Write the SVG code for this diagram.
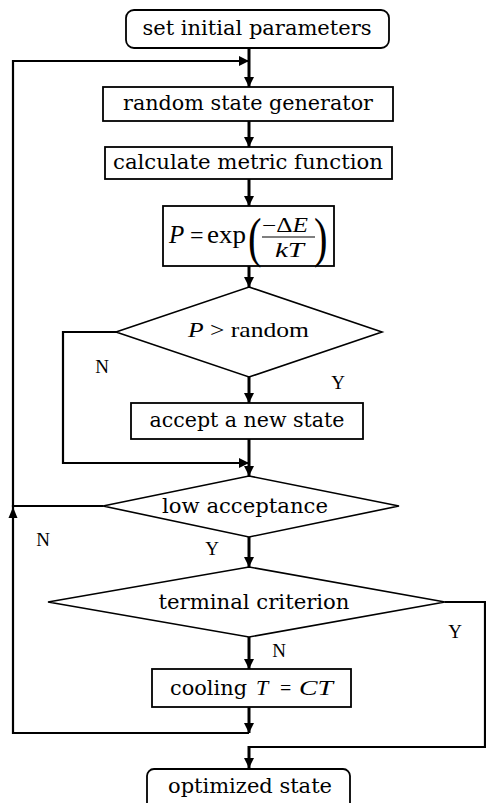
<svg xmlns="http://www.w3.org/2000/svg" width="486" height="803" viewBox="0 0 486 803">
<style>
.box{fill:#fff;stroke:#000;stroke-width:1.8}
.dia{fill:#fff;stroke:#000;stroke-width:1.6}
.t{font-family:"DejaVu Serif","Liberation Serif",serif;font-size:20px;fill:#000}
.m{font-family:"Liberation Serif","Times New Roman",serif;fill:#000}
.lbl{font-family:"Liberation Serif","Times New Roman",serif;font-size:19px;fill:#000;text-anchor:middle}
.c{fill:none;stroke:#000;stroke-width:3}
.c2{fill:none;stroke:#000;stroke-width:2.2}
</style>
<defs>
<marker id="ah" viewBox="0 0 10 10" refX="10" refY="5" markerWidth="11" markerHeight="10" markerUnits="userSpaceOnUse" orient="auto">
<path d="M0,0 L10,5 L0,10 z" fill="#000"/>
</marker>
</defs>
<rect width="486" height="803" fill="#fff"/>
<g id="connectors">
<path class="c" d="M249,48 V87" marker-end="url(#ah)"/>
<path class="c2" d="M103,506 H13 V61 H249" marker-end="url(#ah)"/>
<path d="M13,507 L8.5,518 L17.5,518 z" fill="#000"/>
<path class="c" d="M249,121 V147" marker-end="url(#ah)"/>
<path class="c" d="M249,179 V206" marker-end="url(#ah)"/>
<path class="c" d="M249,266 V287" marker-end="url(#ah)"/>
<path class="c" d="M249,377 V403" marker-end="url(#ah)"/>
<path class="c" d="M249,439 V476" marker-end="url(#ah)"/>
<path class="c2" d="M116,332 H63 V463 H249" marker-end="url(#ah)"/>
<path class="c" d="M249,537 V567" marker-end="url(#ah)"/>
<path class="c" d="M249,637 V669" marker-end="url(#ah)"/>
<path class="c" d="M249,707 V733" marker-end="url(#ah)"/>
<path class="c2" d="M249,733 H13 V505"/>
<path class="c2" d="M445,602 H485 V747 H249"/>
<path class="c" d="M249,746 V768" marker-end="url(#ah)"/>
</g>
<g id="n_start">
<rect class="box" x="126" y="10" width="263" height="38" rx="8"/>
<text class="t" x="257" y="35" text-anchor="middle" textLength="229" lengthAdjust="spacingAndGlyphs">set initial parameters</text>
</g>
<g id="n_random">
<rect class="box" x="103" y="87" width="290" height="34"/>
<text class="t" x="248" y="110" text-anchor="middle" textLength="250" lengthAdjust="spacingAndGlyphs">random state generator</text>
</g>
<g id="n_metric">
<rect class="box" x="105" y="147" width="287" height="32"/>
<text class="t" x="248" y="169" text-anchor="middle" textLength="270" lengthAdjust="spacingAndGlyphs">calculate metric function</text>
</g>
<g id="n_prob">
<rect class="box" x="163" y="206" width="171" height="60"/>
<text class="m" x="169" y="243" font-size="25" font-style="italic">P</text>
<text class="m" x="190" y="243" font-size="24">=</text>
<text class="m" x="207" y="243" font-size="25" textLength="39" lengthAdjust="spacingAndGlyphs">exp</text>
<text class="m" x="248" y="256" font-size="54" transform="translate(248,256) scale(0.75,1) translate(-248,-256)">(</text>
<text class="m" x="314" y="256" font-size="54" transform="translate(314,256) scale(0.75,1) translate(-314,-256)">)</text>
<text class="m" x="262" y="232" font-size="20" textLength="46" lengthAdjust="spacingAndGlyphs">−Δ<tspan font-style="italic">E</tspan></text>
<line x1="262" y1="237" x2="315" y2="237" stroke="#000" stroke-width="1.2"/>
<text class="m" x="275" y="257" font-size="20" font-style="italic" textLength="29" lengthAdjust="spacingAndGlyphs">kT</text>
</g>
<g id="n_prand">
<polygon class="dia" points="249,287 382,332 249,377 116,332"/>
<text class="m" x="188" y="337" font-size="22" textLength="121" lengthAdjust="spacingAndGlyphs"><tspan font-style="italic">P</tspan> &gt; random</text>
</g>
<g id="n_accept">
<rect class="box" x="131" y="403" width="232" height="36"/>
<text class="t" x="247" y="427" text-anchor="middle" textLength="195" lengthAdjust="spacingAndGlyphs">accept a new state</text>
</g>
<g id="n_low">
<polygon class="dia" points="249,476 399,506 249,537 103,506"/>
<text class="t" x="245" y="513" text-anchor="middle" textLength="166" lengthAdjust="spacingAndGlyphs">low acceptance</text>
</g>
<g id="n_term">
<polygon class="dia" points="249,567 445,602 249,637 48,602"/>
<text class="t" x="254" y="609" text-anchor="middle" textLength="191" lengthAdjust="spacingAndGlyphs">terminal criterion</text>
</g>
<g id="n_cool">
<rect class="box" x="152" y="669" width="199" height="38"/>
<text class="t" x="170" y="695" textLength="77" lengthAdjust="spacingAndGlyphs">cooling</text>
<text class="m" x="256" y="695" font-size="22" font-style="italic">T</text>
<text class="m" x="280" y="695" font-size="20">=</text>
<text class="m" x="299" y="695" font-size="22" font-style="italic" textLength="34" lengthAdjust="spacingAndGlyphs">CT</text>
</g>
<g id="n_end">
<rect class="box" x="147" y="769" width="203" height="42" rx="7"/>
<text class="t" x="250" y="793" text-anchor="middle" textLength="164" lengthAdjust="spacingAndGlyphs">optimized state</text>
</g>
<g id="labels">
<text class="lbl" x="102" y="373">N</text>
<text class="lbl" x="338" y="389">Y</text>
<text class="lbl" x="43" y="546">N</text>
<text class="lbl" x="212" y="555">Y</text>
<text class="lbl" x="455" y="638">Y</text>
<text class="lbl" x="279" y="657">N</text>
</g>
</svg>
